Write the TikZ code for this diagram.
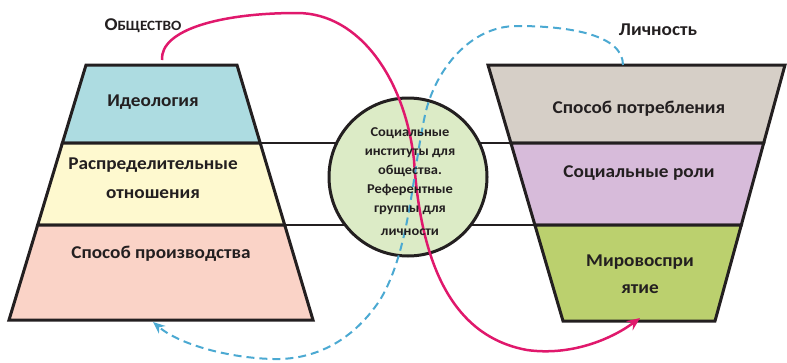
\documentclass[tikz,border=0pt]{standalone}
\usepackage{fontspec}
\setmainfont{Carlito}[FakeStretch=1.07]
\usetikzlibrary{arrows.meta}
\definecolor{cblue}{HTML}{ADDCE1}
\definecolor{cyellow}{HTML}{FEF9CF}
\definecolor{cpink}{HTML}{FAD3C7}
\definecolor{cgrey}{HTML}{D6CFC7}
\definecolor{cviolet}{HTML}{D7BBDA}
\definecolor{cgreen}{HTML}{BBD06E}
\definecolor{ccircle}{HTML}{DCEBC6}
\definecolor{cred}{HTML}{E0186C}
\definecolor{cdash}{HTML}{4BA9D2}
\definecolor{ctext}{HTML}{231F20}
\tikzset{
  band/.style={draw=ctext, line width=3pt, line join=miter},
  link/.style={draw=ctext, line width=1.5pt},
  lbl/.style={font=\fontsize{18}{29}\selectfont\bfseries, text=ctext, align=center, inner sep=0pt, anchor=base},
  ctxt/.style={font=\fontsize{13.5}{19}\selectfont\bfseries, text=ctext, align=center, inner sep=0pt, anchor=base},
  redarc/.style={draw=cred, line width=2.5pt, -{Stealth[length=13pt,width=11pt]}},
  bluearc/.style={draw=cdash, line width=2pt, dash pattern=on 8pt off 5pt, -{Stealth[length=12pt,width=10pt]}}
}
\begin{document}
\begin{tikzpicture}[x=1pt,y=-1pt]
\useasboundingbox (0,0) rectangle (787,362);
% left trapezoid coordinates
\coordinate (LTL) at (86,65);   \coordinate (LTR) at (237,65);
\coordinate (L1L) at (62.4,143); \coordinate (L1R) at (260.2,143);
\coordinate (L2L) at (37.7,225); \coordinate (L2R) at (284.7,225);
\coordinate (LBL) at (9,320);    \coordinate (LBR) at (313,320);
% right trapezoid coordinates
\coordinate (RTL) at (488,65);   \coordinate (RTR) at (785,65);
\coordinate (R1L) at (510.9,143); \coordinate (R1R) at (763.7,143);
\coordinate (R2L) at (534.9,225); \coordinate (R2R) at (741.3,225);
\coordinate (RBL) at (563,321);   \coordinate (RBR) at (715,321);

% connector lines behind circle
\draw[link] (L1R) -- (R1L);
\draw[link] (L2R) -- (R2L);

% left trapezoid bands
\filldraw[band, fill=cblue] (LTL) -- (LTR) -- (L1R) -- (L1L) -- cycle;
\filldraw[band, fill=cyellow] (L1L) -- (L1R) -- (L2R) -- (L2L) -- cycle;
\filldraw[band, fill=cpink] (L2L) -- (L2R) -- (LBR) -- (LBL) -- cycle;
% right trapezoid bands
\filldraw[band, fill=cgrey] (RTL) -- (RTR) -- (R1R) -- (R1L) -- cycle;
\filldraw[band, fill=cviolet] (R1L) -- (R1R) -- (R2R) -- (R2L) -- cycle;
\filldraw[band, fill=cgreen] (R2L) -- (R2R) -- (RBR) -- (RBL) -- cycle;

% circle
\node[circle, draw=ctext, line width=3pt, fill=ccircle, minimum size=158pt, inner sep=0pt] (circ) at (408,177) {};

% curves
\coordinate (redS) at (162,60);
\coordinate (redE) at (640,318);
\draw[redarc] (redS) .. controls (160,30) and (220,13) .. (297,13)
  .. controls (360,13) and (405,80) .. (414,160)
  .. controls (420,250) and (445,335) .. (527,350)
  .. controls (570,356) and (610,340) .. (redE);
\coordinate (blueS) at (623,65);
\coordinate (blueE) at (153,322);
\draw[bluearc] (blueS) .. controls (623,35) and (570,26) .. (517,26)
  .. controls (470,26) and (435,70) .. (425,115)
  .. controls (412,175) and (410,250) .. (380,300)
  .. controls (350,345) and (310,360) .. (273,359)
  .. controls (230,358) and (180,345) .. (blueE);

% texts
\node[lbl] (ideo) at (153,106) {Идеология};
\node[lbl] (rasp) at (153,198) {Распределительные\\отношения};
\node[lbl] (proizv) at (161,258) {Способ производства};
\node[lbl] (potr) at (639,113) {Способ потребления};
\node[lbl] (roli) at (639,177) {Социальные роли};
\node[lbl, font=\fontsize{18}{27}\selectfont\bfseries] (mir) at (640,293) {Мировоспри\\ятие};
\node[ctxt] (inst) at (410,235) {Социальные\\институты для\\общества.\\Референтные\\группы для\\[4pt]личности};
\node[lbl] (obsh) at (143,30) {О{\fontsize{14.2}{17}\selectfont БЩЕСТВО}};
\node[lbl] (lich) at (658,35) {Личность};
\end{tikzpicture}
\end{document}
